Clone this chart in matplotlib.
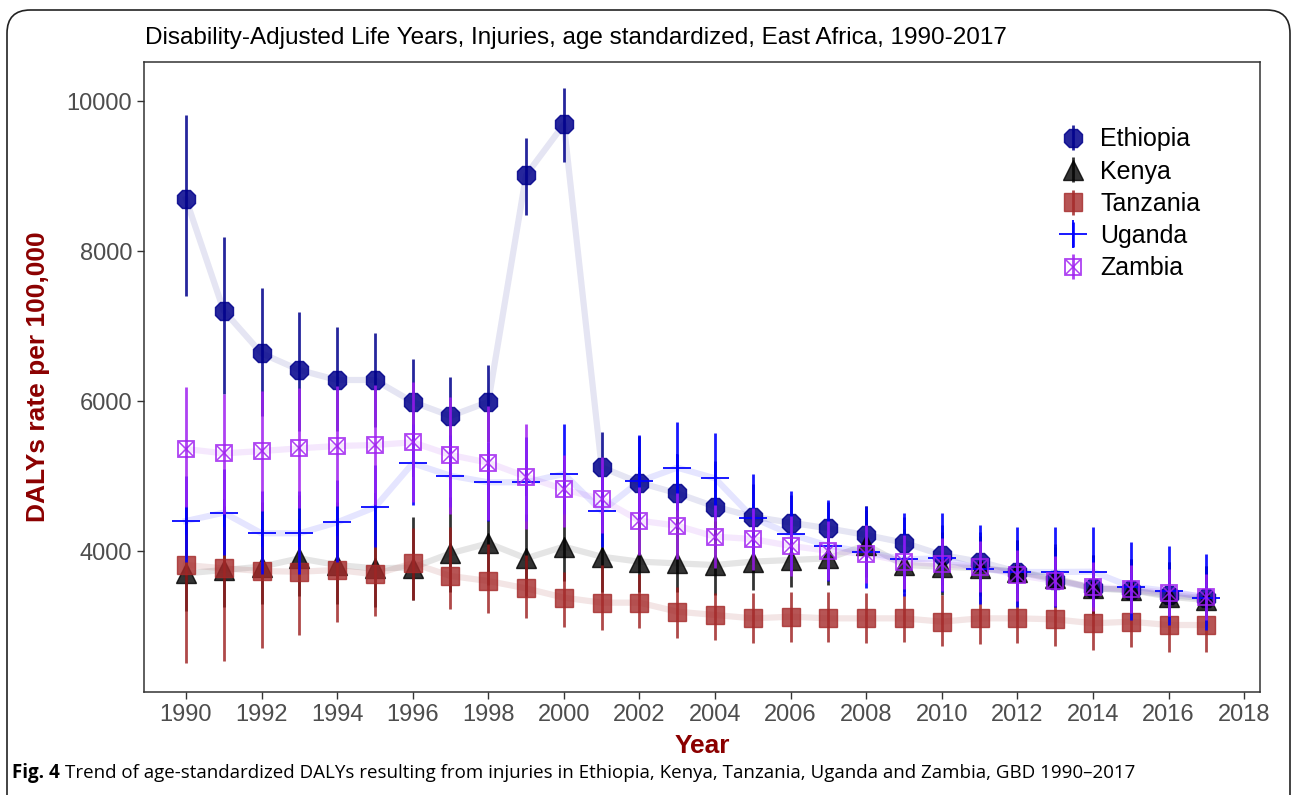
import matplotlib
matplotlib.use("Agg")
import matplotlib.pyplot as plt
from matplotlib.patches import FancyBboxPatch
from matplotlib.lines import Line2D

plt.rcParams['font.family'] = ['Liberation Sans', 'DejaVu Sans']

years = list(range(1990, 2018))

eth_val = [8693, 7204, 6636, 6413, 6280, 6280, 5987, 5800, 5987, 9013, 9689, 5116, 4911, 4769,
           4591, 4458, 4378, 4302, 4213, 4111, 3947, 3858, 3724, 3613, 3502, 3480, 3413, 3369]
eth_lo = [7400, 6100, 5800, 5600, 5600, 5650, 5450, 5300, 5450, 8480, 9191, 4650, 4400, 4300,
          4150, 4000, 3950, 3900, 3800, 3700, 3550, 3450, 3350, 3250, 3150, 3100, 3050, 3000]
eth_hi = [9813, 8191, 7511, 7183, 6983, 6911, 6560, 6324, 6476, 9502, 10180, 5591, 5538, 5300,
          5200, 4900, 4750, 4650, 4550, 4450, 4350, 4250, 4150, 4050, 3950, 3900, 3850, 3800]

ken_val = [3702, 3747, 3791, 3902, 3813, 3769, 3780, 3969, 4102, 3902, 4058, 3924, 3858, 3835,
           3813, 3858, 3880, 3902, 4080, 3813, 3791, 3769, 3724, 3636, 3502, 3480, 3391, 3347]
ken_lo = [3200, 3250, 3300, 3400, 3300, 3250, 3347, 3450, 3550, 3400, 3600, 3450, 3450, 3450,
          3420, 3480, 3520, 3547, 3650, 3450, 3420, 3400, 3350, 3280, 3150, 3120, 3050, 3000]
ken_hi = [4600, 4600, 4650, 4750, 4650, 4600, 4458, 4720, 4900, 4500, 4700, 4502, 4450, 4450,
          4400, 4400, 4400, 4400, 4600, 4300, 4250, 4200, 4150, 4100, 3950, 3900, 3850, 3800]

tan_val = [3813, 3769, 3733, 3724, 3747, 3689, 3836, 3667, 3600, 3502, 3378, 3311, 3311, 3191,
           3147, 3102, 3124, 3102, 3102, 3102, 3058, 3102, 3102, 3089, 3036, 3058, 3013, 3013]
tan_lo = [2511, 2533, 2702, 2880, 3058, 3129, 3347, 3222, 3169, 3102, 2991, 2947, 2969, 2836,
          2813, 2769, 2791, 2791, 2769, 2791, 2733, 2756, 2769, 2733, 2680, 2716, 2658, 2658]
tan_hi = [4591, 4413, 4300, 4300, 4300, 4200, 4307, 4324, 4100, 3950, 3724, 3813, 3700, 3524,
          3436, 3436, 3458, 3458, 3436, 3440, 3413, 3458, 3436, 3450, 3413, 3400, 3380, 3380]

uga_val = [4400, 4511, 4236, 4236, 4382, 4582, 5169, 5004, 4916, 4916, 5027, 4533, 4930, 5111,
           4969, 4444, 4222, 4071, 3982, 3889, 3902, 3760, 3720, 3720, 3724, 3524, 3467, 3378]
uga_lo = [3850, 3950, 3700, 3700, 3850, 4050, 4613, 4591, 4400, 4400, 4500, 4050, 4400, 4550,
          4450, 3950, 3750, 3600, 3502, 3400, 3458, 3300, 3250, 3250, 3250, 3080, 3020, 2950]
uga_hi = [5000, 5100, 4800, 4800, 4950, 5150, 5700, 5550, 5450, 5524, 5689, 5100, 5550, 5720,
          5578, 5022, 4804, 4680, 4600, 4511, 4511, 4347, 4324, 4324, 4324, 4124, 4071, 3960]

zam_val = [5360, 5302, 5333, 5369, 5400, 5413, 5449, 5280, 5178, 4991, 4822, 4689, 4404, 4338,
           4191, 4160, 4067, 4004, 3960, 3858, 3822, 3791, 3680, 3600, 3524, 3489, 3444, 3391]
zam_lo = [4591, 4500, 4530, 4570, 4600, 4620, 4650, 4500, 4420, 4300, 4324, 4236, 3950, 3900,
          3770, 3750, 3670, 3620, 3580, 3500, 3470, 3450, 3340, 3270, 3200, 3170, 3130, 3080]
zam_hi = [6191, 6100, 6130, 6170, 6200, 6220, 6250, 6050, 5930, 5700, 5280, 5258, 4860, 4780,
          4620, 4580, 4470, 4400, 4350, 4220, 4180, 4140, 4020, 3930, 3850, 3810, 3760, 3700]

names = ['Ethiopia', 'Kenya', 'Tanzania', 'Uganda', 'Zambia']

fig = plt.figure(figsize=(12.93, 7.95), dpi=100)
ax = fig.add_axes([144/1293, 1-692/795, (1260-144)/1293, (692-62)/795])

# frame around the panel
frame = FancyBboxPatch((7/1293, -0.05), (1290-7)/1293, 1.05-10/795,
                       boxstyle="round,pad=0,rounding_size=0.018",
                       transform=fig.transFigure, fill=False, ec='#222222', lw=1.2,
                       clip_on=False, mutation_aspect=1293/795)
fig.patches.append(frame)

def err(v, lo, hi):
    return [[a - b for a, b in zip(v, lo)], [c - a for a, c in zip(v, hi)]]

# connecting light lines
ax.plot(years, eth_val, color='#00008B', alpha=0.1, lw=4.5, zorder=1)
ax.plot(years, ken_val, color='black', alpha=0.1, lw=4.5, zorder=1)
ax.plot(years, tan_val, color='#8B0000', alpha=0.1, lw=4.5, zorder=1)
ax.plot(years, uga_val, color='blue', alpha=0.1, lw=4.5, zorder=1)
ax.plot(years, zam_val, color='#A020F0', alpha=0.1, lw=4.5, zorder=1)

h_eth = ax.errorbar(years, eth_val, yerr=err(eth_val, eth_lo, eth_hi), fmt='8', ms=14,
                    color='#00008B', ecolor='#00008B', elinewidth=2, alpha=0.85, zorder=2,
                    mec='#00008B')
h_ken = ax.errorbar(years, ken_val, yerr=err(ken_val, ken_lo, ken_hi), fmt='^', ms=14,
                    color='black', ecolor='black', elinewidth=2, alpha=0.8, zorder=3)
h_tan = ax.errorbar(years, tan_val, yerr=err(tan_val, tan_lo, tan_hi), fmt='s', ms=13,
                    color='#A52A2A', ecolor='#9B1B1B', elinewidth=2, alpha=0.8, zorder=4)
h_uga = ax.errorbar(years, uga_val, yerr=err(uga_val, uga_lo, uga_hi), fmt='+', ms=20, mew=1.4,
                    color='blue', ecolor='blue', elinewidth=2, alpha=0.9, zorder=5)
h_zam = ax.errorbar(years, zam_val, yerr=err(zam_val, zam_lo, zam_hi), fmt='s', ms=12, mew=1.3,
                    mfc='none', mec='#A020F0', ecolor='#A020F0', elinewidth=2, alpha=0.85,
                    zorder=6)
ax.plot(years, zam_val, ls='none', marker='x', ms=10, mew=1.1, color='#A020F0', alpha=0.85,
        zorder=6)

zx = Line2D([], [], ls='none', marker='x', ms=10, mew=1.1, color='#A020F0', alpha=0.85)
leg = ax.legend([h_eth, h_ken, h_tan, h_uga, (h_zam, zx)], names, loc='upper left',
                bbox_to_anchor=(0.81, 0.912), frameon=False, fontsize=18,
                handlelength=1.2, handletextpad=0.5, labelspacing=0.33, borderaxespad=0)

ax.set_xlim(1988.89, 2018.42)
ax.set_ylim(2120, 10520)
ax.set_xticks(range(1990, 2019, 2))
ax.set_yticks([4000, 6000, 8000, 10000])
ax.tick_params(axis='both', labelsize=17, labelcolor='#4d4d4d', color='#333333',
               length=5, width=1)
for s in ax.spines.values():
    s.set_color('#333333')
    s.set_linewidth(1.1)

ax.set_xlabel('Year', fontsize=19, fontweight='bold', color='#8B0000', labelpad=6)
ax.set_ylabel('DALYs rate per 100,000', fontsize=19, fontweight='bold', color='#8B0000',
              labelpad=12)

fig.text(145/1293, 1-38/795, 'Disability-Adjusted Life Years, Injuries, age standardized, East Africa, 1990-2017',
         fontsize=17.5, va='center', ha='left', color='black')

cap_y = 1 - 773/795
t1 = fig.text(12/1293, cap_y, 'Fig. 4', fontsize=13.5, fontweight='bold', va='center', ha='left',
              family=['Open Sans', 'DejaVu Sans'])
fig.canvas.draw()
bb = t1.get_window_extent()
fig.text((bb.x1 + 5)/1293, cap_y,
         'Trend of age-standardized DALYs resulting from injuries in Ethiopia, Kenya, Tanzania, Uganda and Zambia, GBD 1990\u20132017',
         fontsize=13.5, va='center', ha='left', family=['Open Sans', 'DejaVu Sans'])

fig.savefig('out.png', dpi=100)
